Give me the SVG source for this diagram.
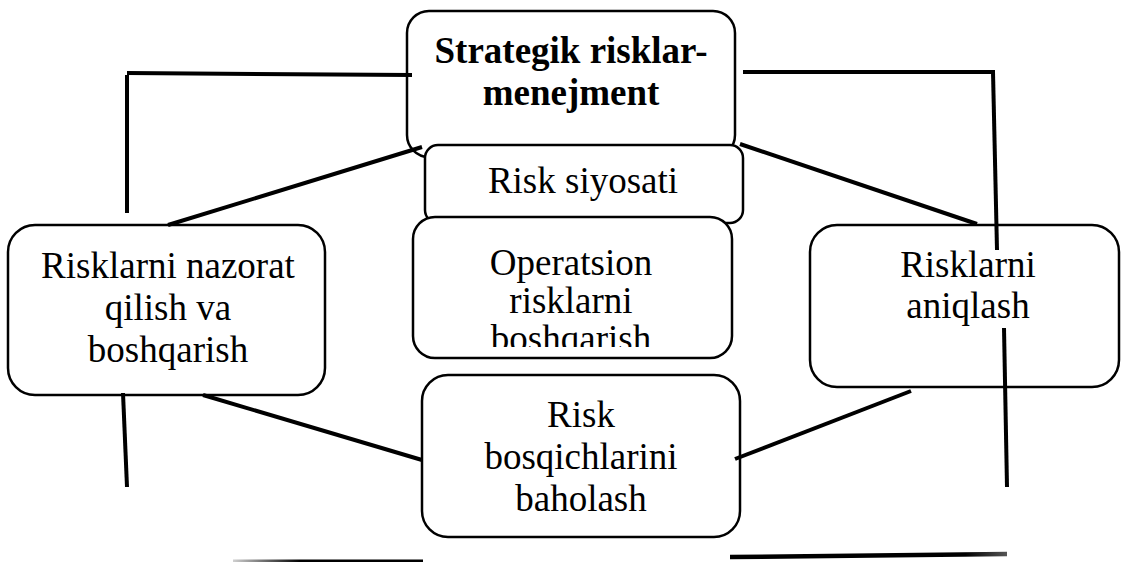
<svg xmlns="http://www.w3.org/2000/svg" width="1121" height="562" viewBox="0 0 1121 562">
  <style>
    .box { fill: #ffffff; stroke: #000000; stroke-width: 2.5; }
    .lbl { font-family: "Liberation Serif", "Times New Roman", serif; font-size: 37px; fill: #000000; text-anchor: middle; }
    .bold { font-weight: bold; }
    .link { stroke: #000000; stroke-width: 4; fill: none; stroke-linecap: butt; }
  </style>
  <defs>
    <linearGradient id="fadeLeft" x1="233" y1="0" x2="423" y2="0" gradientUnits="userSpaceOnUse">
      <stop offset="0" stop-color="#d0d0d0"/>
      <stop offset="0.35" stop-color="#000000"/>
      <stop offset="1" stop-color="#000000"/>
    </linearGradient>
    <linearGradient id="fadeRight" x1="730" y1="0" x2="1007" y2="0" gradientUnits="userSpaceOnUse">
      <stop offset="0" stop-color="#000000"/>
      <stop offset="0.85" stop-color="#000000"/>
      <stop offset="1" stop-color="#555555"/>
    </linearGradient>
    <clipPath id="opClip">
      <rect x="413" y="217" width="319" height="130"/>
    </clipPath>
  </defs>

  <rect width="1121" height="562" fill="#ffffff"/>

  <!-- top: strategic risk management -->
  <g id="strategik">
    <rect class="box" x="407" y="11" width="328" height="146" rx="22" ry="22"/>
    <text class="lbl bold" x="571" y="63">Strategik risklar-</text>
    <text class="lbl bold" x="571" y="105">menejment</text>
  </g>

  <!-- risk policy -->
  <g id="siyosat">
    <rect class="box" x="425" y="145" width="318" height="78" rx="13" ry="13"/>
    <text class="lbl" x="583" y="193">Risk siyosati</text>
  </g>

  <!-- operational risk management -->
  <g id="operatsion">
    <rect class="box" x="413" y="217" width="319" height="141" rx="22" ry="22"/>
    <g clip-path="url(#opClip)">
      <text class="lbl" x="571" y="275">Operatsion</text>
      <text class="lbl" x="571" y="313">risklarni</text>
      <text class="lbl" x="571" y="351">boshqarish</text>
    </g>
  </g>

  <!-- left: control and management -->
  <g id="nazorat">
    <rect class="box" x="8" y="225" width="317" height="170" rx="27" ry="27"/>
    <text class="lbl" x="168" y="278">Risklarni nazorat</text>
    <text class="lbl" x="168" y="320">qilish va</text>
    <text class="lbl" x="168" y="362">boshqarish</text>
  </g>

  <!-- right: identification -->
  <g id="aniqlash">
    <rect class="box" x="810" y="225" width="309" height="162" rx="27" ry="27"/>
    <text class="lbl" x="968" y="277">Risklarni</text>
    <text class="lbl" x="968" y="318">aniqlash</text>
  </g>

  <!-- bottom: assessment -->
  <g id="baholash">
    <rect class="box" x="422" y="375" width="318" height="162" rx="26" ry="26"/>
    <text class="lbl" x="581" y="427">Risk</text>
    <text class="lbl" x="581" y="469">bosqichlarini</text>
    <text class="lbl" x="581" y="511">baholash</text>
  </g>

  <g id="connectors">
    <!-- upper left bracket and diagonal -->
    <polyline class="link" points="127,213 127,75"/>
    <line class="link" x1="127" y1="73" x2="412" y2="75"/>
    <line class="link" x1="168" y1="225" x2="422" y2="147"/>
    <!-- upper right bracket and diagonal -->
    <line class="link" x1="743" y1="72" x2="995" y2="72"/>
    <line class="link" x1="993" y1="72" x2="997" y2="250"/>
    <line class="link" x1="740" y1="144" x2="977" y2="224"/>
    <!-- lower left -->
    <line class="link" x1="123" y1="393" x2="127" y2="487"/>
    <line class="link" x1="203" y1="395" x2="422" y2="460"/>
    <!-- lower right -->
    <line class="link" x1="1004" y1="328" x2="1007" y2="487"/>
    <line class="link" x1="911" y1="391" x2="735" y2="459"/>
    <!-- bottom rules -->
    <line x1="233" y1="561" x2="423" y2="561" stroke="url(#fadeLeft)" stroke-width="3"/>
    <line x1="730" y1="557" x2="1007" y2="554" stroke="url(#fadeRight)" stroke-width="4.5"/>
  </g>
</svg>
